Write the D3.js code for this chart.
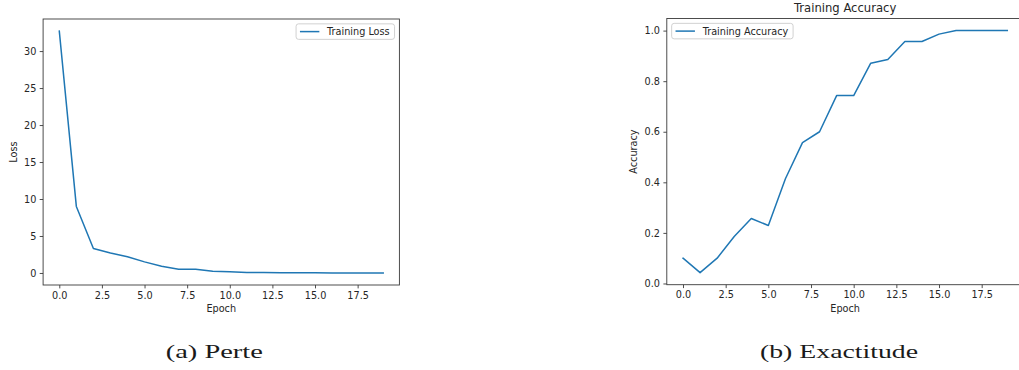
<!DOCTYPE html>
<html>
<head>
<meta charset="utf-8">
<script src="https://cdn.jsdelivr.net/npm/d3@7"></script>
<style>
  html, body { margin: 0; padding: 0; background: #fff; }
  svg { display: block; }
  text { font-family: "DejaVu Sans", sans-serif; fill: #262626; }
  text.caption { font-family: "Liberation Serif", serif; fill: #1a1a1a; }
</style>
</head>
<body>
<svg id="chart" width="1019" height="370"></svg>
<script>
// ---- data ----
const epochs = d3.range(0, 20);
const lossValues = [32.7, 9.0, 3.3, 2.7, 2.2, 1.5, 0.9, 0.5, 0.5, 0.25, 0.18, 0.08, 0.07, 0.04, 0.03, 0.02, 0.01, 0.01, 0.01, 0.01];
const accuracyValues = [0.100, 0.043, 0.100, 0.186, 0.257, 0.229, 0.414, 0.557, 0.600, 0.743, 0.743, 0.871, 0.886, 0.957, 0.957, 0.986, 1.0, 1.0, 1.0, 1.0];
const xTicks = [0, 2.5, 5, 7.5, 10, 12.5, 15, 17.5];
const lossTicks = [0, 5, 10, 15, 20, 25, 30];
const accTicks = [0, 0.2, 0.4, 0.6, 0.8, 1.0];
const lossLegend = "Training Loss";
const accLegend = "Training Accuracy";
const accTitle = "Training Accuracy";
const lossYLabel = "Loss";
const accYLabel = "Accuracy";
const xLabel = "Epoch";
const captions = ["(a) Perte", "(b) Exactitude"];

const svg = d3.select("#chart");
const FS = 9.7;
const lineColor = "#1f77b4";
const spineColor = "#3a3a3a";

function margin(vals) {
  const lo = d3.min(vals), hi = d3.max(vals), pad = (hi - lo) * 0.05;
  return [lo - pad, hi + pad];
}

function panel(cfg) {
  const { left, right, top, bottom, values, yTicks, yFmt, legend, legendPos, yLabel, yLabelX, title } = cfg;
  const x = d3.scaleLinear().domain(margin(epochs)).range([left, right]);
  const y = d3.scaleLinear().domain(margin(values)).range([bottom, top]);
  const g = svg.append("g");

  const xa = g.append("g").attr("transform", `translate(0,${bottom})`)
    .call(d3.axisBottom(x).tickValues(xTicks).tickFormat(d3.format(".1f")).tickSize(3.4).tickPadding(3.4));
  const ya = g.append("g").attr("transform", `translate(${left},0)`)
    .call(d3.axisLeft(y).tickValues(yTicks).tickFormat(yFmt).tickSize(3.4).tickPadding(3.4));
  [xa, ya].forEach(a => {
    a.select(".domain").remove();
    a.selectAll(".tick line").attr("stroke", spineColor).attr("stroke-width", 0.9);
    a.selectAll(".tick text").attr("font-family", "DejaVu Sans").attr("font-size", FS).attr("fill", "#262626");
  });

  const line = d3.line().x((d, i) => x(epochs[i])).y(d => y(d));
  g.append("path").datum(values).attr("d", line)
    .attr("fill", "none").attr("stroke", lineColor).attr("stroke-width", 1.5)
    .attr("stroke-linejoin", "round").attr("stroke-linecap", "square");

  g.append("rect").attr("x", left).attr("y", top).attr("width", right - left).attr("height", bottom - top)
    .attr("fill", "none").attr("stroke", spineColor).attr("stroke-width", 0.9);

  const pad = 0.5 * FS, bpad = 0.4 * FS, hl = 2 * FS, htp = 0.8 * FS;
  const tmp = g.append("text").attr("font-size", FS).text(legend);
  const tw = tmp.node().getComputedTextLength();
  tmp.remove();
  const lw = bpad * 2 + hl + htp + tw + 1;
  const lh = 15.5;
  const lx = legendPos === "right" ? right - pad - lw : left + pad;
  const ly = top + pad;
  g.append("rect").attr("x", lx).attr("y", ly).attr("width", lw).attr("height", lh).attr("rx", 2.5)
    .attr("fill", "white").attr("fill-opacity", 0.8).attr("stroke", "#cccccc").attr("stroke-width", 0.9);
  g.append("line").attr("x1", lx + bpad).attr("x2", lx + bpad + hl)
    .attr("y1", ly + lh / 2).attr("y2", ly + lh / 2)
    .attr("stroke", lineColor).attr("stroke-width", 1.5);
  g.append("text").attr("x", lx + bpad + hl + htp).attr("y", ly + lh / 2 + 3.5)
    .attr("font-size", FS).text(legend);

  g.append("text").attr("x", (left + right) / 2).attr("y", 312.3)
    .attr("text-anchor", "middle").attr("font-size", FS).text(xLabel);
  g.append("text").attr("transform", `translate(${yLabelX},${(top + bottom) / 2}) rotate(-90)`)
    .attr("text-anchor", "middle").attr("font-size", FS).text(yLabel);
  if (title) {
    g.append("text").attr("x", (left + right) / 2).attr("y", 12.2)
      .attr("text-anchor", "middle").attr("font-size", 11.6).text(title);
  }
}

panel({ left: 43.1, right: 399.4, top: 19, bottom: 285, values: lossValues, yTicks: lossTicks,
  yFmt: d3.format("d"), legend: lossLegend, legendPos: "right", yLabel: lossYLabel, yLabelX: 17.3 });
panel({ left: 666.8, right: 1023.5, top: 18.5, bottom: 284.7, values: accuracyValues, yTicks: accTicks,
  yFmt: d3.format(".1f"), legend: accLegend, legendPos: "left", yLabel: accYLabel, yLabelX: 636.8, title: accTitle });

const capPos = [{ cx: 214.3, w: 97 }, { cx: 839, w: 158 }];
captions.forEach((c, i) => {
  svg.append("text").attr("class", "caption").attr("x", capPos[i].cx).attr("y", 358).attr("text-anchor", "middle")
    .attr("font-size", 19.5)
    .attr("textLength", capPos[i].w).attr("lengthAdjust", "spacingAndGlyphs").text(c);
});
</script>
</body>
</html>
